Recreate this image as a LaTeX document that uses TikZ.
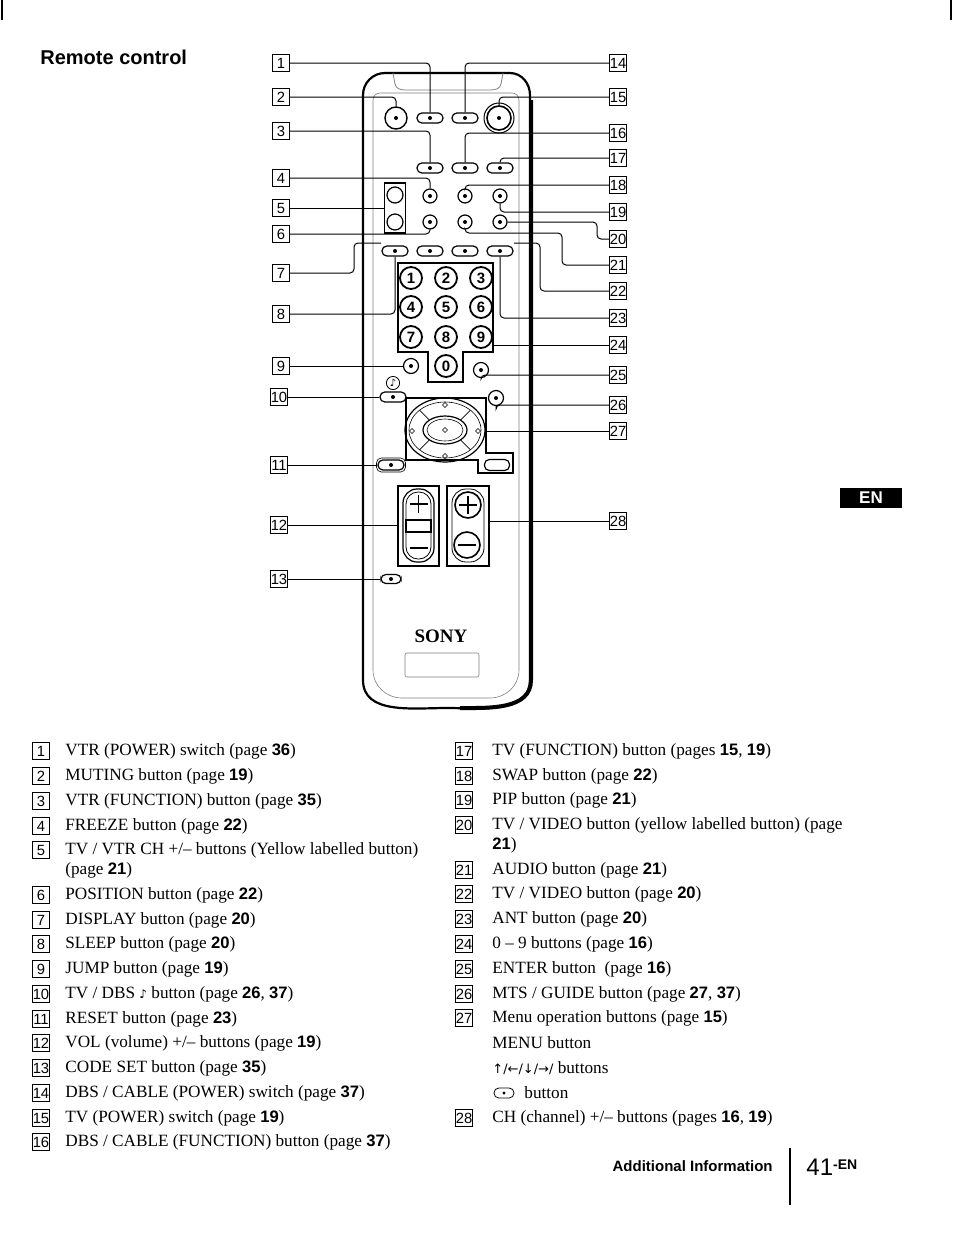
\documentclass[tikz,border=0pt]{standalone}
\usepackage{fontspec}
\usetikzlibrary{calc}
\setmainfont{Liberation Serif}
\setsansfont{Liberation Sans}
\newfontfamily\dv{DejaVu Sans}
\newcommand\pg[1]{{\sffamily\bfseries\fontsize{8.3}{10}\selectfont #1}}
\tikzset{
 lab/.style={draw,line width=0.55pt,inner sep=0pt,minimum width=8.5pt,minimum height=8.5pt,font=\sffamily\fontsize{7.4}{7.4}\selectfont},
 pill/.style={draw,line width=0.6pt,rounded corners=2.4pt,minimum width=13pt,minimum height=5pt,inner sep=0},
 rbtn/.style={draw,circle,line width=0.6pt,minimum size=7pt,inner sep=0},
 nbtn/.style={draw,circle,line width=0.9pt,minimum size=11pt,inner sep=0,font=\sffamily\bfseries\fontsize{7.5}{7.5}\selectfont},
 lead/.style={line width=0.5pt,rounded corners=2pt},
 item/.style={anchor=west,inner sep=0,font=\fontsize{8.6}{10}\selectfont},
}
\begin{document}
\begin{tikzpicture}[x=0.5pt,y=-0.5pt]
\useasboundingbox (0,0) rectangle (954,1233);
\draw[line width=0.8pt] (2,0)--(2,20) (951,0)--(951,20);
\node[anchor=west,inner sep=0,font=\sffamily\bfseries\fontsize{10}{12}\selectfont] (title) at (40,57) {Remote control};
% remote body
\draw[line width=1.1pt] (363,680) -- (363,95) to[out=90,in=180] (385,73) -- (510,73) to[out=0,in=90] (530,95) -- (530,680) to[out=-90,in=0] (447,708) to[out=180,in=-90] (363,680);
\draw[line width=2pt] (531,100) -- (531,680) to[out=-90,in=0] (460,708);
\draw[line width=0.3pt,gray] (373,100) to[out=90,in=180] (380,93) -- (512,93) to[out=0,in=90] (519,100) -- (519,670) to[out=-90,in=0] (490,698) -- (402,698) to[out=180,in=-90] (373,670) -- cycle;
\draw[line width=0.4pt,gray] (393,73) -- (395,84) to[out=-80,in=180] (405,90) -- (490,90) to[out=0,in=-100] (501,84) -- (503,73);
% row 1
\node[draw,circle,line width=0.7pt,minimum size=11pt,inner sep=0] (c2) at (396,118) {};
\node[pill] (p1) at (430,118) {};
\node[pill] (p14) at (465,118) {};
\node[draw,circle,line width=0.5pt,minimum size=15pt,inner sep=0] (c15o) at (499,118) {};
\node[draw,circle,line width=0.8pt,minimum size=12pt,inner sep=0] (c15) at (499,118) {};
% row 2
\node[pill] (p3) at (430,168) {};
\node[pill] (p16) at (465,168) {};
\node[pill] (p17) at (500,168) {};
% rows 3,4
\node[rbtn] (c4) at (430,196) {};
\node[rbtn] (c18) at (465,196) {};
\node[rbtn] (c19) at (500,196) {};
\node[rbtn] (c6) at (430,222) {};
\node[rbtn] (c21) at (465,222) {};
\node[rbtn] (c20) at (500,222) {};
\node[draw,line width=0.8pt,minimum width=10.5pt,minimum height=25pt,inner sep=0] (b5) at (395,208) {};
\node[rbtn,minimum size=8pt] (c5a) at (395,195) {};
\node[rbtn,minimum size=8pt] (c5b) at (395,222) {};
% row 5
\node[pill] (p7) at (395,251) {};
\node[pill] (p8) at (430,251) {};
\node[pill] (p22) at (465,251) {};
\node[pill] (p23) at (500,251) {};
% number pad
\draw[line width=0.6pt] (398,263) -- (493,263) -- (493,352) -- (463,352) -- (463,382) -- (428,382) -- (428,352) -- (398,352) -- cycle;
\node[nbtn] (n1) at (411,278) {1};
\node[nbtn] (n2) at (446,278) {2};
\node[nbtn] (n3) at (481,278) {3};
\node[nbtn] (n4) at (411,307) {4};
\node[nbtn] (n5) at (446,307) {5};
\node[nbtn] (n6) at (481,307) {6};
\node[nbtn] (n7) at (411,337) {7};
\node[nbtn] (n8) at (446,337) {8};
\node[nbtn] (n9) at (481,337) {9};
\node[nbtn] (n0) at (446,366) {0};
\node[rbtn,minimum size=7.5pt] (c9) at (411,366) {};
\node[rbtn,minimum size=7.5pt] (c25) at (481,370) {};
\node[inner sep=0,font=\dv\fontsize{5}{5}\selectfont] (note) at (393,383) {♪};
\draw[line width=0.4pt] (note) circle (3.3pt);
\node[pill] (p10) at (393,397) {};
\node[rbtn,minimum size=7.5pt] (c26) at (496,398) {};
% nav
\draw[line width=0.6pt] (406,398) -- (486,398) -- (486,453) -- (513,453) -- (513,473) -- (478,473) -- (478,460) -- (406,460) -- cycle;
\draw[line width=0.6pt] (445,430) ellipse (20pt and 16pt);
\draw[line width=0.3pt] (445,430) ellipse (18pt and 14pt);
\draw[line width=0.6pt,fill=white] (445,430) ellipse (11pt and 7pt);
\draw[line width=0.3pt] (445,430) ellipse (9pt and 5.5pt);
\foreach \a in {45,135,225,315} \draw[line width=0.4pt] ($(445,430)+(\a:22 and 14)$) -- ($(445,430)+(\a:36 and 28)$);
\foreach \p in {(445,405),(445,456),(412,431),(478,431),(445,430)} \draw[line width=0.3pt] \p ++(0,-2.5) -- ++(2.5,2.5) -- ++(-2.5,2.5) -- ++(-2.5,-2.5) -- cycle;
\node[pill,minimum width=12.5pt,minimum height=5.5pt] (p27b) at (497,465) {};
\node[pill,minimum width=14.5pt,minimum height=7pt,line width=0.3pt] (p11o) at (391,465) {};
\node[pill] (p11) at (391,465) {};
% vol / ch
\node[draw,line width=0.8pt,minimum width=20.5pt,minimum height=40pt,inner sep=0] (vol) at (418.5,526) {};
\draw[line width=0.6pt,rounded corners=7pt] (403,489) rectangle (434,562);
\draw[line width=0.4pt,rounded corners=6pt] (406,492) rectangle (431,559);
\draw[line width=0.6pt] (406,520) rectangle (431,532);
\draw[line width=0.9pt] (418.5,495) -- (418.5,513) (409.5,504) -- (427.5,504) (409.5,548) -- (427.5,548);
\node[draw,line width=0.8pt,minimum width=21pt,minimum height=40pt,inner sep=0] (ch) at (468,526) {};
\draw[line width=0.4pt,rounded corners=7pt] (452,489) rectangle (484,562);
\node[draw,circle,line width=0.8pt,minimum size=13pt,inner sep=0] (chp) at (468,505) {};
\node[draw,circle,line width=0.8pt,minimum size=13pt,inner sep=0] (chm) at (467,545) {};
\draw[line width=0.9pt] (468,496) -- (468,514) (459,505) -- (477,505) (458,545) -- (476,545);
\node[pill,minimum width=10pt,minimum height=4.5pt] (p13) at (391,579) {};
\node[font=\bfseries\fontsize{9.5}{10}\selectfont,inner sep=0] (sony) at (441,636) {SONY};
\draw[line width=0.3pt,gray,rounded corners=1pt] (405,653) rectangle (479,677);
\foreach \n in {p1,p14,p3,p16,p17,p7,p8,p22,p23,p10,p11,p13,c2,c15,c4,c18,c19,c6,c21,c20,c9,c25,c26} \fill (\n) circle (1pt);
% labels left
\node[lab] (L1) at (281,63) {1};
\node[lab] (L2) at (281,97) {2};
\node[lab] (L3) at (281,131) {3};
\node[lab] (L4) at (281,178) {4};
\node[lab] (L5) at (281,208) {5};
\node[lab] (L6) at (281,234) {6};
\node[lab] (L7) at (281,273) {7};
\node[lab] (L8) at (281,314) {8};
\node[lab] (L9) at (281,366) {9};
\node[lab] (L10) at (279,397) {10};
\node[lab] (L11) at (279,465) {11};
\node[lab] (L12) at (279,525) {12};
\node[lab] (L13) at (279,579) {13};
% labels right
\node[lab] (R14) at (618,63) {14};
\node[lab] (R15) at (618,97) {15};
\node[lab] (R16) at (618,133) {16};
\node[lab] (R17) at (618,158) {17};
\node[lab] (R18) at (618,185) {18};
\node[lab] (R19) at (618,212) {19};
\node[lab] (R20) at (618,239) {20};
\node[lab] (R21) at (618,265) {21};
\node[lab] (R22) at (618,291) {22};
\node[lab] (R23) at (618,318) {23};
\node[lab] (R24) at (618,345) {24};
\node[lab] (R25) at (618,375) {25};
\node[lab] (R26) at (618,405) {26};
\node[lab] (R27) at (618,431) {27};
\node[lab] (R28) at (618,521) {28};
% leaders
\coordinate (k7) at (381,243);
\coordinate (k22) at (514,243);
\draw[lead] (L1.east) -| (p1.north);
\draw[lead] (L2.east) -| (c2.north);
\draw[lead] (L3.east) -| (p3.north);
\draw[lead] (L4.east) -| (c4.north);
\draw[lead] (L5.east) -- (b5.west);
\draw[lead] (L6.east) -| (c6.south);
\draw[lead] (L7.east) -| (354,243) -- (k7);
\draw[lead] (L8.east) -| (p7.south);
\draw[lead] (L9.east) -- (c9.west);
\draw[lead] (L10.east) -- (p10.west);
\draw[lead] (L11.east) -- (p11o.west);
\draw[lead] (L12.east) -- (vol.west |- L12.east);
\draw[lead] (L13.east) -- (p13.west);
\draw[lead] (R14.west) -| (p14.north);
\draw[lead] (R15.west) -| (c15.north);
\draw[lead] (R16.west) -| (p16.north);
\draw[lead] (R17.west) -| (p17.north);
\draw[lead] (R18.west) -| (c18.north);
\draw[lead] (R19.west) -| (c19.south);
\draw[lead] (R20.west) -| (597,222) -- (c20.east);
\draw[lead] (R21.west) -| (562,233) -| (c21.south);
\draw[lead] (R22.west) -| (540,243) -- (k22);
\draw[lead] (R23.west) -| (p23.south);
\draw[lead] (R24.west) -- (493,345);
\draw[lead] (R25.west) -| (c25.south);
\draw[lead] (R26.west) -| (c26.south);
\draw[lead] (R27.west) -- (486,431);
\draw[lead] (R28.west) -- (ch.east |- R28.west);
% EN tab
\node[fill=black,text=white,minimum width=31pt,minimum height=10pt,inner sep=0,font=\sffamily\bfseries\fontsize{8.5}{8.5}\selectfont] (en) at (871,498) {EN};
% list left
\node[lab] (a1) at (41,751) {1}; \node[item] (t1) at (65,751) {VTR (POWER) switch (page \pg{36})};
\node[lab] (a2) at (41,776) {2}; \node[item] (t2) at (65,776) {MUTING button (page \pg{19})};
\node[lab] (a3) at (41,801) {3}; \node[item] (t3) at (65,801) {VTR (FUNCTION) button (page \pg{35})};
\node[lab] (a4) at (41,826) {4}; \node[item] (t4) at (65,826) {FREEZE button (page \pg{22})};
\node[lab] (a5) at (41,850) {5}; \node[item] (t5) at (65,850) {TV / VTR CH +/– buttons (Yellow labelled button)};
\node[item] (t5b) at (65,870) {(page \pg{21})};
\node[lab] (a6) at (41,895) {6}; \node[item] (t6) at (65,895) {POSITION button (page \pg{22})};
\node[lab] (a7) at (41,920) {7}; \node[item] (t7) at (65,920) {DISPLAY button (page \pg{20})};
\node[lab] (a8) at (41,944) {8}; \node[item] (t8) at (65,944) {SLEEP button (page \pg{20})};
\node[lab] (a9) at (41,969) {9}; \node[item] (t9) at (65,969) {JUMP button (page \pg{19})};
\node[lab] (a10) at (41,994) {10}; \node[item] (t10) at (65,994) {TV / DBS {\dv\fontsize{6}{6}\selectfont ♪} button (page \pg{26}, \pg{37})};
\node[lab] (a11) at (41,1019) {11}; \node[item] (t11) at (65,1019) {RESET button (page \pg{23})};
\node[lab] (a12) at (41,1043) {12}; \node[item] (t12) at (65,1043) {VOL (volume) +/– buttons (page \pg{19})};
\node[lab] (a13) at (41,1068) {13}; \node[item] (t13) at (65,1068) {CODE SET button (page \pg{35})};
\node[lab] (a14) at (41,1093) {14}; \node[item] (t14) at (65,1093) {DBS / CABLE (POWER) switch (page \pg{37})};
\node[lab] (a15) at (41,1118) {15}; \node[item] (t15) at (65,1118) {TV (POWER) switch (page \pg{19})};
\node[lab] (a16) at (41,1142) {16}; \node[item] (t16) at (65,1142) {DBS / CABLE (FUNCTION) button (page \pg{37})};
% list right
\node[lab] (a17) at (464,751) {17}; \node[item] (t17) at (492,751) {TV (FUNCTION) button (pages \pg{15}, \pg{19})};
\node[lab] (a18) at (464,776) {18}; \node[item] (t18) at (492,776) {SWAP button (page \pg{22})};
\node[lab] (a19) at (464,800) {19}; \node[item] (t19) at (492,800) {PIP button (page \pg{21})};
\node[lab] (a20) at (464,825) {20}; \node[item] (t20) at (492,825) {TV / VIDEO button (yellow labelled button) (page};
\node[item] (t20b) at (492,845) {\pg{21})};
\node[lab] (a21) at (464,870) {21}; \node[item] (t21) at (492,870) {AUDIO button (page \pg{21})};
\node[lab] (a22) at (464,894) {22}; \node[item] (t22) at (492,894) {TV / VIDEO button (page \pg{20})};
\node[lab] (a23) at (464,919) {23}; \node[item] (t23) at (492,919) {ANT button (page \pg{20})};
\node[lab] (a24) at (464,944) {24}; \node[item] (t24) at (492,944) {0 – 9 buttons (page \pg{16})};
\node[lab] (a25) at (464,969) {25}; \node[item] (t25) at (492,969) {ENTER button \ (page \pg{16})};
\node[lab] (a26) at (464,994) {26}; \node[item] (t26) at (492,994) {MTS / GUIDE button (page \pg{27}, \pg{37})};
\node[lab] (a27) at (464,1018) {27}; \node[item] (t27) at (492,1018) {Menu operation buttons (page \pg{15})};
\node[item] (t27b) at (492,1043) {MENU button};
\node[item] (t27c) at (492,1068) {{\dv\fontsize{6.5}{6.5}\selectfont ↑/←/↓/→/} buttons};
\node[pill,minimum width=10pt,minimum height=5pt,line width=0.4pt] (t27p) at (504,1093) {};
\fill (t27p) circle (0.8pt);
\node[item] (t27d) at (524,1093) {button};
\node[lab] (a28) at (464,1118) {28}; \node[item] (t28) at (492,1118) {CH (channel) +/– buttons (pages \pg{16}, \pg{19})};
% footer
\node[anchor=east,inner sep=0,font=\sffamily\bfseries\fontsize{7.5}{8}\selectfont] (foot) at (773,1166) {Additional Information};
\draw[line width=0.7pt] (790,1148) -- (790,1205);
\node[anchor=west,inner sep=0,font=\sffamily\fontsize{12}{12}\selectfont] (pn) at (806,1167) {41\raisebox{3pt}{\bfseries\fontsize{7}{7}\selectfont -EN}};
\end{tikzpicture}
\end{document}
